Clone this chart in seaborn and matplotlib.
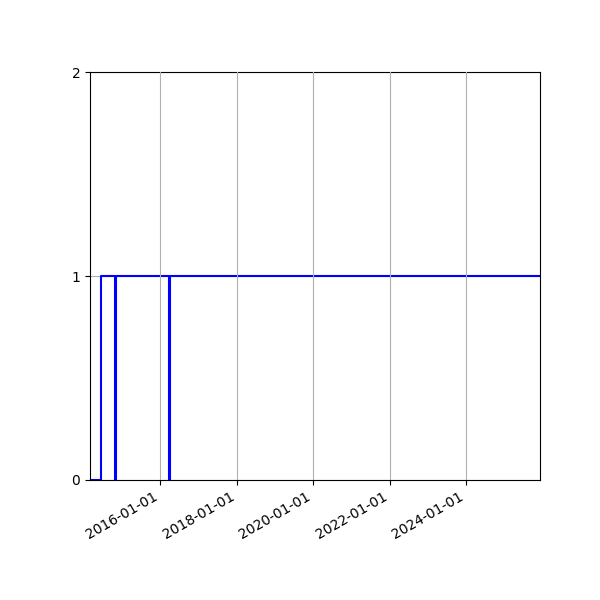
import pandas as pd
import numpy as np
import matplotlib
matplotlib.use("Agg")
import matplotlib.pyplot as plt
import matplotlib.dates as mdates
import seaborn as sns

# state changes (0 = off, 1 = on), drawn as a post step line
dates = ['2014-03-01', '2014-06-17', '2014-10-24', '2014-10-31',
         '2016-03-25', '2016-04-01', '2025-12-05']
state = [0, 1, 0, 1, 0, 1, 1]
y_ticks = [0, 1, 2]

df = pd.DataFrame({'date': pd.to_datetime(dates), 'state': state})

fig, ax = plt.subplots(figsize=(6, 6), dpi=100)

sns.lineplot(data=df, x='date', y='state', ax=ax, color='blue',
             linewidth=1.5, drawstyle='steps-post', estimator=None)

ax.set_xlim(df['date'].min(), df['date'].max())
ax.set_ylim(0, 2)
ax.set_yticks(y_ticks)
ax.set_xlabel('')
ax.set_ylabel('')

ax.xaxis.set_major_locator(mdates.YearLocator(2))
ax.xaxis.set_major_formatter(mdates.DateFormatter('%Y-%m-%d'))

ax.grid(True, color='#b0b0b0', linewidth=0.8)
# vertical grid sits over the line, horizontal one under it
ax.xaxis.set_zorder(2.5)
ax.yaxis.set_zorder(0.5)

fig.autofmt_xdate()
fig.subplots_adjust(left=0.15, right=0.9, top=0.88, bottom=0.2)
fig.savefig('out.png', dpi=100)
